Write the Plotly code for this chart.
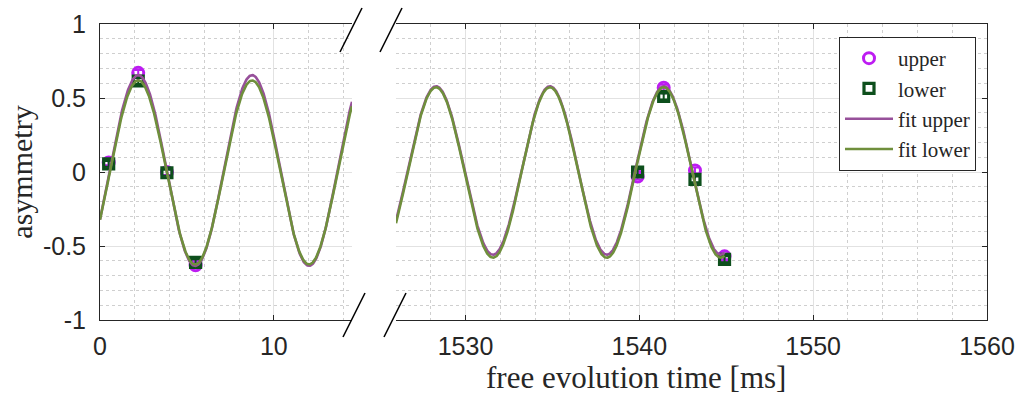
import numpy as np
import plotly.graph_objects as go

# ---------------- data ----------------
t_left = [0.5, 2.2, 3.85, 5.5]
upper_left = [0.065, 0.67, 0.0, -0.63]
lower_left = [0.055, 0.615, -0.005, -0.61]

t_right = [1539.9, 1541.4, 1543.2, 1544.9]
upper_right = [-0.03, 0.57, 0.01, -0.57]
lower_right = [0.0, 0.51, -0.05, -0.59]

err_upper_left = [0.02, 0.02, 0.02, 0.02]
err_lower_left = [0.02, 0.02, 0.02, 0.02]
err_upper_right = [0.02, 0.02, 0.02, 0.02]
err_lower_right = [0.02, 0.02, 0.02, 0.02]

# fitted damped-sine parameters
fit_period = 6.5498       # ms
fit_t0 = 0.5625           # ms, rising zero crossing
fit_upper_amp0, fit_upper_tau, fit_upper_offset = 0.645, 12300.0, 0.01
fit_lower_amp0, fit_lower_tau, fit_lower_offset = 0.622, 20000.0, -0.003

x_left_range = [0, 14.5]
x_right_range = [1526, 1560]
x_left_ticks = [0, 10]
x_right_ticks = [1530, 1540, 1550, 1560]
y_ticks = [-1, -0.5, 0, 0.5, 1]
y_tick_text = ["-1", "-0.5", "0", "0.5", "1"]


def fit_curve(t, amp0, tau, offset):
    t = np.asarray(t)
    return offset + amp0 * np.exp(-t / tau) * np.sin(2 * np.pi * (t - fit_t0) / fit_period)


tl = np.linspace(x_left_range[0], x_left_range[1], 600)
tr = np.linspace(x_right_range[0], 1544.9, 1200)

# ---------------- styling ----------------
C_UP = "#bd1cf2"
C_LO = "#0d4f1c"
C_FUP = "#97509a"
C_FLO = "#6f8f3c"
AX = "#262626"
SERIF = "Liberation Serif, Times New Roman, serif"

W, H = 1021, 397
ML, MR, MT, MB = 100, 34, 24, 77
PW = W - ML - MR
PH = H - MT - MB


def px_x(px):
    return (px - ML) / PW


def px_y(py):
    return (H - MB - py) / PH


fig = go.Figure()

marker_up = dict(symbol="circle-open", size=11, color=C_UP, line=dict(width=3, color=C_UP))
marker_lo = dict(symbol="square-open", size=10, color=C_LO, line=dict(width=3.2, color=C_LO))

for xa, ya, tt, uy, ue, ly, le, show in [
    ("x", "y", t_left, upper_left, err_upper_left, lower_left, err_lower_left, True),
    ("x2", "y2", t_right, upper_right, err_upper_right, lower_right, err_lower_right, False),
]:
    fig.add_trace(go.Scatter(
        x=tt, y=uy, mode="markers", name="upper", legendgroup="up", showlegend=show,
        legendrank=1, marker=marker_up, xaxis=xa, yaxis=ya,
        error_y=dict(type="data", array=ue, color=C_UP, thickness=2, width=4)))
    fig.add_trace(go.Scatter(
        x=tt, y=ly, mode="markers", name="lower", legendgroup="lo", showlegend=show,
        legendrank=2, marker=marker_lo, xaxis=xa, yaxis=ya,
        error_y=dict(type="data", array=le, color=C_LO, thickness=2, width=4)))

for xa, ya, tt, show in [("x", "y", tl, True), ("x2", "y2", tr, False)]:
    fig.add_trace(go.Scatter(
        x=tt, y=fit_curve(tt, fit_upper_amp0, fit_upper_tau, fit_upper_offset),
        mode="lines", name="fit upper", legendgroup="fup", showlegend=show, legendrank=3,
        line=dict(color=C_FUP, width=2.6), xaxis=xa, yaxis=ya))
    fig.add_trace(go.Scatter(
        x=tt, y=fit_curve(tt, fit_lower_amp0, fit_lower_tau, fit_lower_offset),
        mode="lines", name="fit lower", legendgroup="flo", showlegend=show, legendrank=4,
        line=dict(color=C_FLO, width=2.6), xaxis=xa, yaxis=ya))

tick_font = dict(family="Liberation Sans, Arial", size=25, color=AX)
minor_x = dict(dtick=2, tick0=0, showgrid=True, griddash="dot", gridcolor="#cfcfcf", gridwidth=1, ticks="")
minor_y = dict(dtick=0.1, tick0=0, showgrid=True, griddash="dot", gridcolor="#cfcfcf", gridwidth=1, ticks="")

common_x = dict(showline=True, linecolor=AX, linewidth=1, mirror="ticks", ticks="inside",
                ticklen=5, tickcolor=AX, showgrid=True, gridcolor="#e2e2e2", gridwidth=1,
                zeroline=False, tickfont=tick_font, minor=minor_x, ticklabelstandoff=4)
common_y = dict(range=[-1, 1], tickvals=y_ticks, ticktext=y_tick_text, showline=True,
                linecolor=AX, linewidth=1, ticks="inside", ticklen=5, tickcolor=AX,
                showgrid=True, gridcolor="#e2e2e2", gridwidth=1, zeroline=False,
                tickfont=tick_font, minor=minor_y)

d1 = px_x(352)
d2 = px_x(396)

fig.update_layout(
    width=W, height=H, margin=dict(l=ML, r=MR, t=MT, b=MB, autoexpand=False),
    paper_bgcolor="white", plot_bgcolor="white",
    xaxis=dict(domain=[0, d1], range=x_left_range, tickvals=x_left_ticks, anchor="y", **common_x),
    xaxis2=dict(domain=[d2, 1], range=x_right_range, tickvals=x_right_ticks, anchor="y2", **common_x),
    yaxis=dict(anchor="x", mirror=False, ticklabelstandoff=8,
               title=dict(text="asymmetry", font=dict(family=SERIF, size=30, color=AX), standoff=1),
               **common_y),
    yaxis2=dict(anchor="x2", side="right", matches="y", showticklabels=False, mirror=False, **common_y),
    legend=dict(x=px_x(976), y=px_y(37), xanchor="right", yanchor="top",
                bgcolor="white", bordercolor=AX, borderwidth=1,
                font=dict(family=SERIF, size=21, color=AX),
                tracegroupgap=0, itemwidth=48),
    showlegend=True,
)

fig.add_annotation(text="free evolution time [ms]", xref="paper", yref="paper",
                   x=px_x(636), y=px_y(397), xanchor="center", yanchor="bottom", showarrow=False,
                   font=dict(family=SERIF, size=31, color=AX))

# axis-break marks
for cx, cy in [(351, 30), (354, 315), (391, 30), (395, 315)]:
    fig.add_shape(type="line", xref="paper", yref="paper",
                  x0=px_x(cx - 11), y0=px_y(cy + 22), x1=px_x(cx + 11), y1=px_y(cy - 22),
                  line=dict(color="black", width=1.5))

fig.write_html("out.html")
